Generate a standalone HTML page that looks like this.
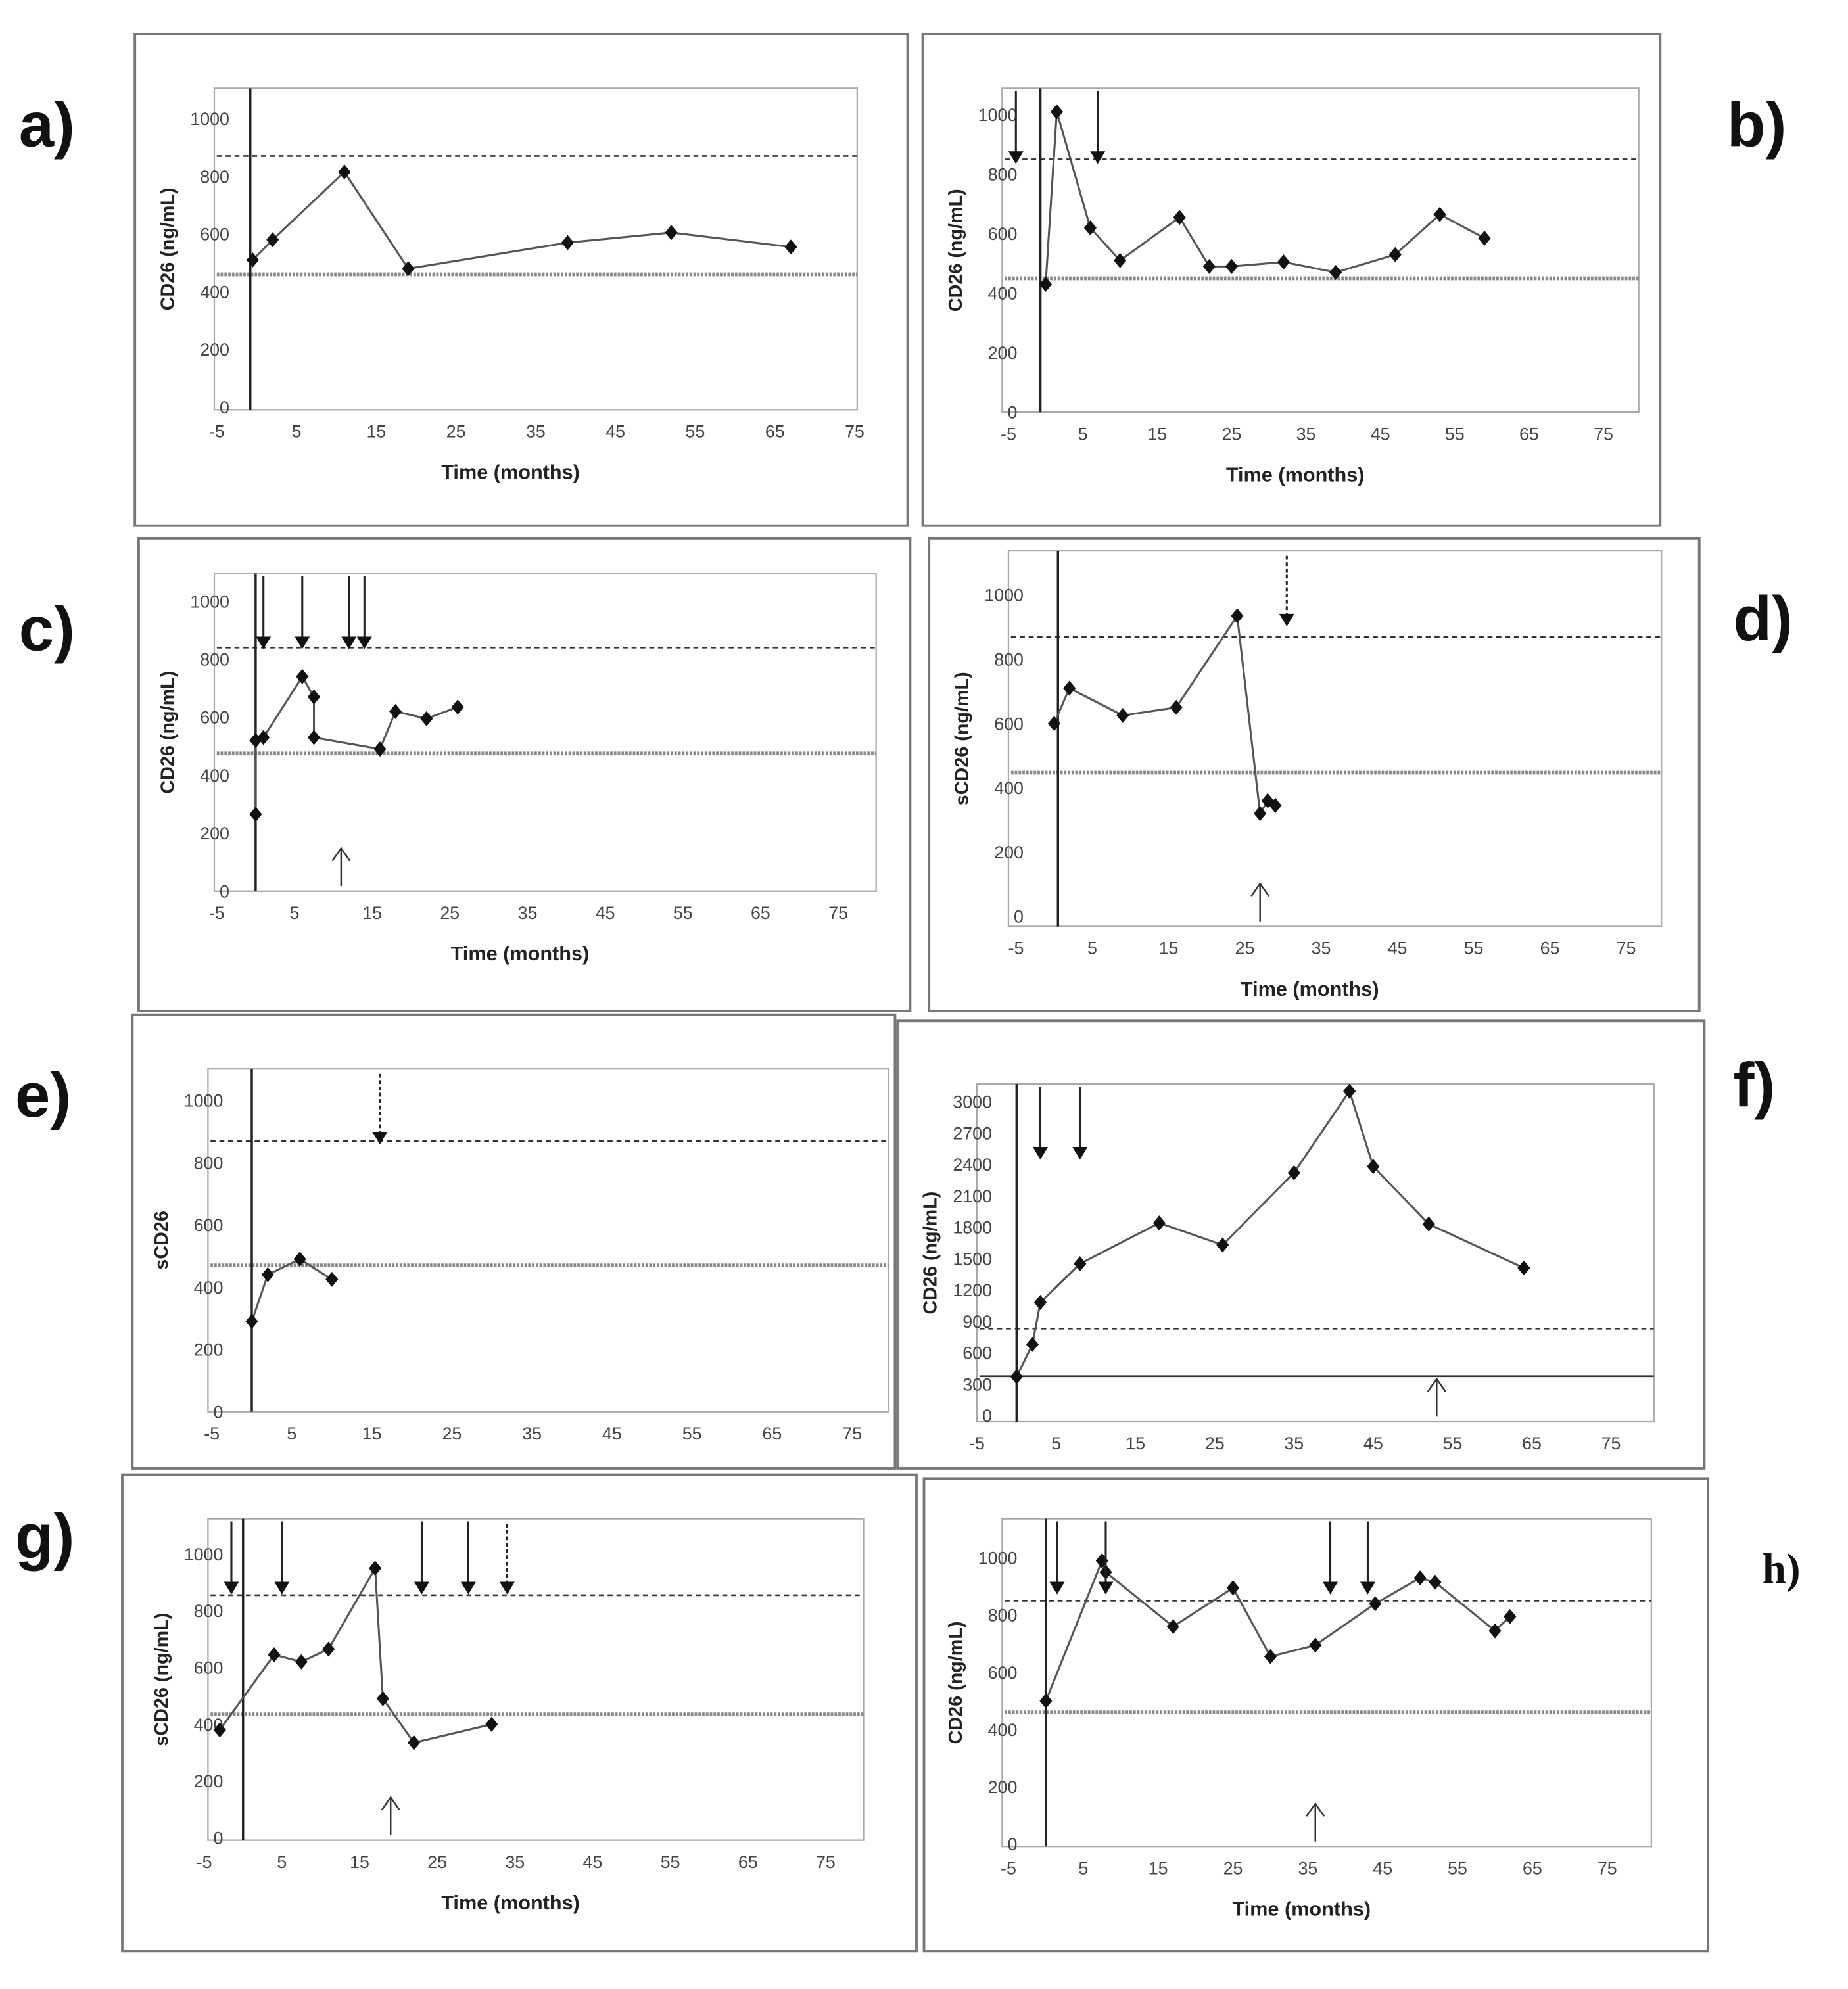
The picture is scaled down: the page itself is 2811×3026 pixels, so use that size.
<!DOCTYPE html>
<html><head><meta charset="utf-8"><style>
html,body{margin:0;padding:0;background:#fff}
svg{display:block}
text{font-family:"Liberation Sans",sans-serif}
</style></head><body>
<svg id="fig" width="2811" height="3026" viewBox="0 0 1466 1578" xmlns="http://www.w3.org/2000/svg"></svg>
<script>
// ---- data (time in months, value ng/mL) ----
const xTicks=[-5,5,15,25,35,45,55,65,75];
const yTicks1000=[0,200,400,600,800,1000];
const yTicks3000=[0,300,600,900,1200,1500,1800,2100,2400,2700,3000];
const aTime=[-0.5,2,11,19,39,52,67];
const aVal=[510,580,815,480,570,605,555];
const bTime=[0,1.5,6,10,18,22,25,32,39,47,53,59];
const bVal=[430,1010,620,510,655,490,490,505,470,530,665,585];
const bArrows=[-4,7];
const cTime=[0,0,1,6,7.5,7.5,16,18,22,26];
const cVal=[265,520,530,740,670,530,490,620,595,635];
const cArrows=[1,6,12,14];
const dTime=[0,2,9,16,24,27,28,29];
const dVal=[600,710,625,650,935,320,360,345];
const eTime=[0,2,6,10];
const eVal=[290,440,490,425];
const fTime=[0,2,3,8,18,26,35,42,45,52,64];
const fVal=[370,680,1080,1450,1840,1630,2320,3100,2380,1830,1410];
const fArrows=[3,8];
const gTime=[-3,4,7.5,11,17,18,22,32];
const gVal=[380,645,620,665,950,490,335,400];
const gArrows=[-1.5,5,23,29];
const hTime=[0,7.5,8,17,25,30,36,44,50,52,60,62];
const hVal=[500,990,950,760,895,655,695,840,930,915,745,795];
const hArrows=[1.5,8,38,43];

const panels=[
 {id:'a',frame:[107,27,613,390],plot:[170,70,510,255],x0px:172,x1px:678,y0px:323,ymaxPx:94,ymax:1000,ticks:yTicks1000,upper:870,lower:460,t:aTime,v:aVal,arr:[],dashArr:[],up:null,ylab:'CD26 (ng/mL)',xlab:true,lab:[15,100],axisX:-0.8},
 {id:'b',frame:[732,27,585,390],plot:[795,70,505,257],x0px:800,x1px:1272,y0px:327,ymaxPx:91,ymax:1000,ticks:yTicks1000,upper:850,lower:450,t:bTime,v:bVal,arr:bArrows,dashArr:[],up:null,ylab:'CD26 (ng/mL)',xlab:true,lab:[1370,100],axisX:-0.7},
 {id:'c',frame:[110,427,612,375],plot:[170,455,525,252],x0px:172,x1px:665,y0px:707,ymaxPx:477,ymax:1000,ticks:yTicks1000,upper:840,lower:475,t:cTime,v:cVal,arr:cArrows,dashArr:[],up:11,ylab:'CD26 (ng/mL)',xlab:true,lab:[15,500],axisX:0},
 {id:'d',frame:[737,427,611,375],plot:[800,437,518,298],x0px:806,x1px:1290,y0px:727,ymaxPx:472,ymax:1000,ticks:yTicks1000,upper:870,lower:447,t:dTime,v:dVal,arr:[],dashArr:[30.5],up:27,ylab:'sCD26 (ng/mL)',xlab:true,lab:[1375,492],axisX:0.5},
 {id:'e',frame:[105,805,605,360],plot:[165,848,540,272],x0px:168,x1px:676,y0px:1120,ymaxPx:873,ymax:1000,ticks:yTicks1000,upper:870,lower:470,t:eTime,v:eVal,arr:[],dashArr:[16],up:null,ylab:'sCD26',xlab:false,lab:[12,870],axisX:0},
 {id:'f',frame:[712,810,640,355],plot:[775,860,537,268],x0px:775,x1px:1278,y0px:1123,ymaxPx:874,ymax:3000,ticks:yTicks3000,upper:830,lower:375,t:fTime,v:fVal,arr:fArrows,dashArr:[],up:53,ylab:'CD26 (ng/mL)',xlab:false,lab:[1375,862],axisX:0,lowerSolid:true},
 {id:'g',frame:[97,1170,630,378],plot:[165,1205,520,255],x0px:162,x1px:655,y0px:1458,ymaxPx:1233,ymax:1000,ticks:yTicks1000,upper:855,lower:435,t:gTime,v:gVal,arr:gArrows,dashArr:[34],up:19,ylab:'sCD26 (ng/mL)',xlab:true,lab:[12,1220],axisX:0},
 {id:'h',frame:[733,1173,622,375],plot:[795,1205,515,260],x0px:800,x1px:1275,y0px:1463,ymaxPx:1236,ymax:1000,ticks:yTicks1000,upper:850,lower:460,t:hTime,v:hVal,arr:hArrows,dashArr:[],up:36,ylab:'CD26 (ng/mL)',xlab:true,lab:[1398,1240],axisX:0,serif:true},
];
const NS='http://www.w3.org/2000/svg';
const svg=document.getElementById('fig');
function mk(tag,attrs,parent){const e=document.createElementNS(NS,tag);for(const k in attrs)e.setAttribute(k,attrs[k]);(parent||svg).appendChild(e);return e;}
function arrowDown(g,x,yTop,yBot,dashed){
 mk('line',{x1:x,y1:yTop,x2:x,y2:yBot-8,stroke:'#222','stroke-width':1.6,'stroke-dasharray':dashed?'3,2':'none'},g);
 mk('polygon',{points:`${x-6},${yBot-10} ${x+6},${yBot-10} ${x},${yBot}`,fill:'#111'},g);
}
panels.forEach(p=>{
 const g=mk('g',{});
 
 
 const xs=t=>p.x0px+(t+5)*(p.x1px-p.x0px)/80;
 const ys=v=>p.y0px-v*(p.y0px-p.ymaxPx)/p.ymax;
 const fr=mk('rect',{x:p.frame[0],y:p.frame[1],width:p.frame[2],height:p.frame[3],fill:'none',stroke:'#777','stroke-width':2},g);
 
 
 const [px,py,pw,ph]=p.plot;
 const pr=mk('rect',{x:px,y:py,width:pw,height:ph,fill:'#fff',stroke:'#aaa','stroke-width':1.2},g);
 
 
 // y ticks
 p.ticks.forEach(v=>{
  const t=mk('text',{x:px+12,y:ys(v)+5,'text-anchor':'end','font-size':14,fill:'#444'},g);t.textContent=v;
  
  
 });
 xTicks.forEach(v=>{
  const t=mk('text',{x:xs(v),y:py+ph+22,'text-anchor':'middle','font-size':14,fill:'#444'},g);t.textContent=v;
  
  
 });
 // reference lines
 const ul=mk('line',{x1:px+2,y1:ys(p.upper),x2:px+pw,y2:ys(p.upper),stroke:'#333','stroke-width':1.4,'stroke-dasharray':'4,3'},g);
 
 
 const ll=mk('line',{x1:px+2,y1:ys(p.lower),x2:px+pw,y2:ys(p.lower),stroke:p.lowerSolid?'#333':'#888','stroke-width':p.lowerSolid?1.4:3,'stroke-dasharray':p.lowerSolid?'none':'2,1'},g);
 
 
 // y axis at time 0
 const ax=mk('line',{x1:xs(p.axisX),y1:py,x2:xs(p.axisX),y2:py+ph,stroke:'#222','stroke-width':1.8},g);
 
 
 // series
 const pts=p.t.map((t,i)=>xs(t)+','+ys(p.v[i])).join(' ');
 const pl=mk('polyline',{points:pts,fill:'none',stroke:'#555','stroke-width':1.6},g);
 
 
 p.t.forEach((t,i)=>{
  const x=xs(t),y=ys(p.v[i]);
  const d=mk('polygon',{points:`${x},${y-6} ${x+5},${y} ${x},${y+6} ${x-5},${y}`,fill:'#111'},g);
  
  
 });
 p.arr.forEach(t=>arrowDown(g,xs(t),py+2,py+60,false));
 p.dashArr.forEach(t=>arrowDown(g,xs(t),py+4,py+60,true));
 if(p.up!==null){
  const x=xs(p.up),yb=py+ph-4,yt=yb-30;
  mk('line',{x1:x,y1:yb,x2:x,y2:yt,stroke:'#333','stroke-width':1.3},g);
  mk('polyline',{points:`${x-7},${yt+10} ${x},${yt} ${x+7},${yt+10}`,fill:'none',stroke:'#333','stroke-width':1.3},g);
 }
 const yl=mk('text',{x:0,y:0,transform:`translate(${px-32},${py+ph/2}) rotate(-90)`,'text-anchor':'middle','font-size':15,'font-weight':'bold',fill:'#222'},g);
 yl.textContent=p.ylab;
 
 
 if(p.xlab){
  const xl=mk('text',{x:px+pw/2-20,y:py+ph+55,'text-anchor':'middle','font-size':16,'font-weight':'bold',fill:'#222'},g);
  xl.textContent='Time (months)';
  
  
 }
 const lb=mk('text',{x:p.lab[0],y:p.lab[1]+16,'font-size':p.serif?34:50,'font-weight':'bold',fill:'#111'},g);
 if(p.serif)lb.setAttribute('style','font-family:"Liberation Serif",serif');
 lb.textContent=p.id+')';
 
 
});
</script>
</body></html>
